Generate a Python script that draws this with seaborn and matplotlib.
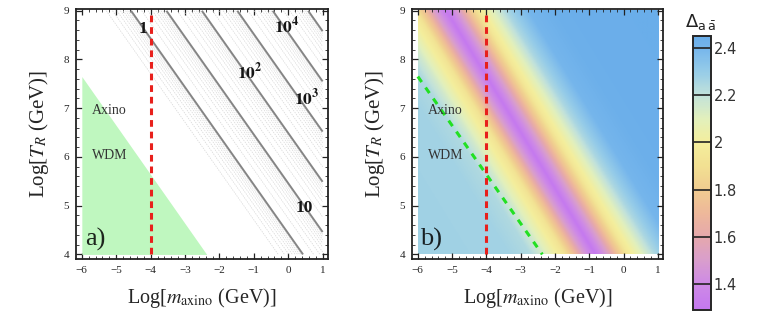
import numpy as np
import matplotlib
matplotlib.use("Agg")
import matplotlib.pyplot as plt
from matplotlib.colors import LinearSegmentedColormap, Normalize
from matplotlib.cm import ScalarMappable
from matplotlib.ticker import MultipleLocator
import seaborn as sns

# plot range: Log[m_axino], Log[T_R]
m_range = [-6, 1]
t_range = [4, 9]

# relic abundance contours, levels in Log[m] + Log[T_R]
omega_levels = [4.43, 5.46, 6.49, 7.52, 8.55, 9.58]
omega_labels = ["1", "10", r"$\mathbf{10}^{\mathbf{2}}$", r"$\mathbf{10}^{\mathbf{3}}$", r"$\mathbf{10}^{\mathbf{4}}$", ""]

# warm dark matter region edge and the mass bound
wdm_edge_x = [-6.0, -2.37]
wdm_edge_y = [7.65, 4.0]
m_bound = -4

# Delta_{a abar} profile across the band (distance from band centre)
delta_d = [-6.0, -2.5, -1.9, -1.55, -1.2, -0.9, -0.6, -0.35, 0.0, 0.35, 0.65, 0.95, 1.35, 1.75, 2.4, 3.2, 7.0]
delta_val = [2.28, 2.27, 2.24, 2.15, 2.03, 1.93, 1.72, 1.5, 1.3, 1.5, 1.75, 1.95, 2.1, 2.25, 2.4, 2.44, 2.45]
band_slope = 0.868
band_centre = 2.62

# colour legend
cbar_ticks = [1.4, 1.6, 1.8, 2.0, 2.2, 2.4]
cbar_labels = ["1.4", "1.6", "1.8", "2", "2.2", "2.4"]
cmap_vals = [1.29, 1.4, 1.5, 1.6, 1.7, 1.8, 1.9, 2.0, 2.1, 2.2, 2.3, 2.4, 2.45]
cmap_cols = ["#c478f0", "#ce8ae6", "#d99ecc", "#e5a8ac", "#eeb89a", "#f0cc90", "#f2e092",
             "#f4ee9c", "#e2f0bc", "#c2e2da", "#96cce8", "#76b6ec", "#6aaeea"]

sns.set_style("ticks")
plt.rcParams['font.family'] = ['Liberation Serif', 'DejaVu Serif']
plt.rcParams['mathtext.fontset'] = 'stix'

fig = plt.figure(figsize=(7.63, 3.16), dpi=100)
ax1 = fig.add_axes([0.0996, 0.1794, 0.330, 0.7912])
ax2 = fig.add_axes([0.540, 0.1794, 0.329, 0.7912])
cax = fig.add_axes([0.908, 0.019, 0.0236, 0.867])

vmin, vmax = cmap_vals[0], cmap_vals[-1]
pos = [(v - vmin) / (vmax - vmin) for v in cmap_vals]
cmap = LinearSegmentedColormap.from_list("delta", list(zip(pos, cmap_cols)))
norm = Normalize(vmin, vmax)

xg = np.linspace(m_range[0], m_range[1], 300)
yg = np.linspace(t_range[0], t_range[1], 300)
X, Y = np.meshgrid(xg, yg)
Z = X + Y

# ---- panel a ----
ax1.fill_between(wdm_edge_x, t_range[0], wdm_edge_y, color="#bff7bf", lw=0)
faint = [lv + 1.03 * np.log10(k) for lv in [omega_levels[0] - 1.03] + omega_levels for k in range(2, 10)]
Zf = np.ma.masked_where(X < -2.35 - 0.642 * (Y - 4), Z)
ax1.contour(X, Y, Zf, levels=sorted(faint), colors="#d6d6d6", linewidths=0.5, linestyles=[(0, (2, 1.5))])
ax1.contour(X, Y, Z, levels=omega_levels, colors="#858585", linewidths=1.4)
label_pos = [(-4.22, 8.63), (0.48, 4.96), (-1.12, 7.73), (0.54, 7.2), (-0.04, 8.69)]
for (lx, ly), lab in zip(label_pos, omega_labels):
    ax1.text(lx, ly, lab, ha="center", va="center", fontsize=12.5, fontweight="bold", color="#151515")

# ---- panel b ----
dist = X + band_slope * Y - band_centre
field = np.interp(dist, delta_d, delta_val)
ax2.imshow(field, extent=[m_range[0], m_range[1], t_range[0], t_range[1]], origin="lower",
           aspect="auto", cmap=cmap, norm=norm, interpolation="bilinear")
sns.lineplot(x=wdm_edge_x, y=wdm_edge_y, ax=ax2, color="#22e022", lw=2.2,
             estimator=None, sort=False, dashes=False, linestyle=(0, (2.2, 2.2)))

for ax, tag in [(ax1, "a)"), (ax2, "b)")]:
    sns.lineplot(x=[m_bound, m_bound], y=t_range, ax=ax, color="#e8201c", lw=2.2,
                 estimator=None, sort=False, linestyle=(0, (2.2, 1.6)))
    ax.text(-5.2, 6.95, "Axino", ha="center", va="center", fontsize=10, color="#333333")
    ax.text(-5.2, 6.03, "WDM", ha="center", va="center", fontsize=10, color="#333333")
    ax.text(-5.62, 4.31, tag, ha="center", va="center", fontsize=19, color="black", alpha=0.85)
    ax.set_xlim(-6.17, 1.15)
    ax.set_ylim(3.9, 9.03)
    ax.set_xticks(range(-6, 2))
    ax.set_yticks(range(4, 10))
    ax.xaxis.set_minor_locator(MultipleLocator(0.2))
    ax.yaxis.set_minor_locator(MultipleLocator(0.2))
    ax.tick_params(which="both", direction="in", top=True, right=True, labelsize=8, color="#222222")
    ax.tick_params(which="major", length=4, width=0.9, pad=5)
    ax.tick_params(which="minor", length=2, width=0.6)
    for sp in ax.spines.values():
        sp.set_linewidth(1.3)
        sp.set_color("#222222")
    ax.set_xlabel(r"Log[$m_{\rm axino}$ (GeV)]", fontsize=14.5, labelpad=8)
    ax.set_ylabel(r"Log[$T_R$ (GeV)]", fontsize=15, labelpad=9)

# ---- colour legend ----
cb = fig.colorbar(ScalarMappable(norm=norm, cmap=cmap), cax=cax)
cb.outline.set_linewidth(1.4)
cb.set_ticks(cbar_ticks)
cb.set_ticklabels(cbar_labels)
cax.tick_params(length=0, labelsize=10.5, pad=2)
for t in cax.get_yticklabels():
    t.set_fontfamily("DejaVu Sans")
    t.set_color("#333333")
for v in cbar_ticks:
    cax.axhline(v, color="#222222", lw=1.2)
fig.text(0.898, 0.93, r"$\Delta_{\mathrm{a}\,\bar{\mathrm{a}}}$", fontsize=13, ha="left", va="center",
         math_fontfamily="dejavusans", color="#222222")

fig.savefig("out.png", dpi=100)
